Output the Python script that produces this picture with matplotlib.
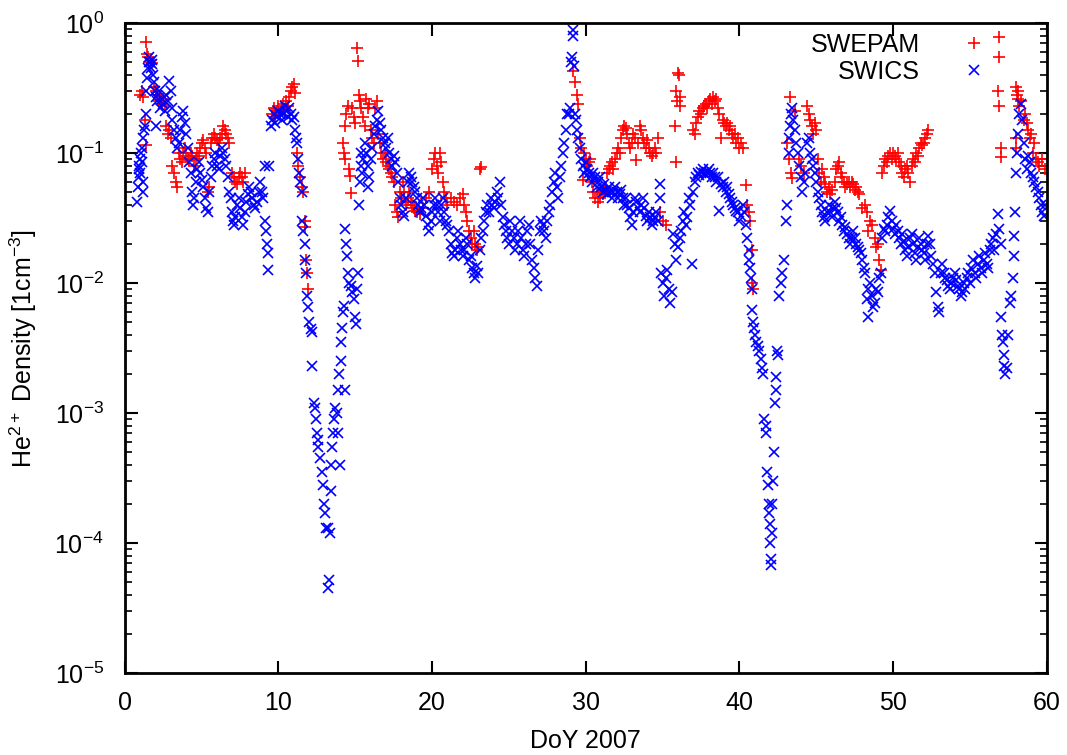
import numpy as np
import matplotlib
matplotlib.use('Agg')
import matplotlib.pyplot as plt
import matplotlib as mpl

mpl.rcParams['font.family'] = ['Liberation Sans', 'DejaVu Sans']
mpl.rcParams['font.size'] = 18
mpl.rcParams['mathtext.default'] = 'regular'
mpl.rcParams['xtick.top'] = True
mpl.rcParams['ytick.right'] = True
mpl.rcParams['xtick.direction'] = 'in'
mpl.rcParams['ytick.direction'] = 'in'

# (day of year, He2+ density in cm^-3)
swics_early = [
    (0.8, 0.042), (0.85, 0.055), (0.9, 0.065), (0.9, 0.08), (0.95, 0.075), (1.0, 0.09), (1.0, 0.07),
    (1.05, 0.1), (1.1, 0.085), (1.1, 0.11), (1.15, 0.06), (1.2, 0.05), (1.2, 0.13), (1.25, 0.15),
    (1.3, 0.16), (1.35, 0.2), (1.4, 0.3), (1.45, 0.38), (1.5, 0.45), (1.55, 0.5), (1.6, 0.55),
    (1.65, 0.5), (1.7, 0.45), (1.75, 0.52), (1.8, 0.48), (1.85, 0.4), (1.9, 0.35), (1.95, 0.3),
    (2.0, 0.27), (2.05, 0.16), (2.1, 0.25), (2.2, 0.3), (2.3, 0.22), (2.4, 0.26), (2.5, 0.24),
    (2.6, 0.21), (2.7, 0.28), (2.8, 0.25), (2.9, 0.36), (3.0, 0.3), (3.05, 0.22), (3.1, 0.18),
    (3.2, 0.15), (3.3, 0.13), (3.4, 0.11), (3.5, 0.12), (3.6, 0.15), (3.7, 0.19), (3.8, 0.21),
    (3.9, 0.17), (4.0, 0.14), (4.1, 0.11), (4.2, 0.085), (4.3, 0.07), (4.4, 0.05), (4.45, 0.04),
    (4.5, 0.045), (4.6, 0.06), (4.7, 0.075), (4.8, 0.085), (4.9, 0.07), (5.0, 0.062), (5.1, 0.055),
    (5.2, 0.045), (5.3, 0.038), (5.4, 0.035), (5.5, 0.05), (5.6, 0.065), (5.7, 0.08), (5.8, 0.09),
    (5.9, 0.1), (6.0, 0.08), (6.1, 0.075), (6.2, 0.095), (6.3, 0.11), (6.4, 0.1), (6.5, 0.09),
    (6.6, 0.08), (6.7, 0.065), (6.8, 0.05), (6.9, 0.045), (7.0, 0.035), (7.05, 0.03), (7.1, 0.028),
    (7.2, 0.032), (7.3, 0.04), (7.4, 0.045), (7.5, 0.038), (7.6, 0.032), (7.7, 0.028), (7.8, 0.035),
    (7.9, 0.042), (8.0, 0.048), (8.1, 0.055), (8.2, 0.05), (8.3, 0.045), (8.4, 0.04), (8.5, 0.038),
    (8.6, 0.042), (8.7, 0.05), (8.8, 0.06), (8.9, 0.05), (9.0, 0.045), (9.1, 0.08), (9.15, 0.03),
    (9.2, 0.025), (9.25, 0.02), (9.3, 0.017), (9.35, 0.0125), (9.4, 0.08), (9.5, 0.16), (9.6, 0.18),
    (9.7, 0.2), (9.8, 0.17), (9.9, 0.19), (10.0, 0.21), (10.1, 0.2), (10.2, 0.18), (10.3, 0.2),
    (10.4, 0.23), (10.5, 0.21), (10.6, 0.19), (10.7, 0.22), (10.8, 0.2), (10.9, 0.18), (11.0, 0.19),
    (11.1, 0.15), (11.15, 0.13), (11.2, 0.12),
]
swics_dip1 = [
    (11.3, 0.09), (11.35, 0.07), (11.4, 0.06), (11.5, 0.05), (11.55, 0.03), (11.6, 0.025), (11.7, 0.02),
    (11.75, 0.015), (11.8, 0.012), (11.85, 0.008), (11.9, 0.0065), (12.0, 0.005), (12.1, 0.0044),
    (12.15, 0.0042), (12.2, 0.0023), (12.3, 0.0012), (12.35, 0.0011), (12.45, 0.0009), (12.5, 0.0007),
    (12.55, 0.00062), (12.6, 0.00055), (12.7, 0.00045), (12.8, 0.00035), (12.9, 0.00028), (12.95, 0.0002),
    (13.05, 0.00017), (13.1, 0.00013), (13.2, 0.00013), (13.25, 4.5e-5), (13.28, 5.2e-5), (13.35, 0.00012),
    (13.4, 0.00025), (13.45, 0.0004), (13.5, 0.00055), (13.55, 0.0007), (13.6, 0.0009), (13.7, 0.0011),
    (13.8, 0.001), (13.85, 0.0007), (13.9, 0.0015), (13.95, 0.002), (14.0, 0.0004), (14.05, 0.0025),
    (14.1, 0.0035), (14.15, 0.0045), (14.2, 0.006), (14.25, 0.0067), (14.3, 0.0015), (14.35, 0.026),
    (14.4, 0.02), (14.45, 0.016), (14.5, 0.012), (14.6, 0.01), (14.7, 0.0095), (14.8, 0.0085),
    (14.9, 0.0075), (15.0, 0.0055), (15.05, 0.0048), (15.1, 0.009), (15.2, 0.012),
]
swics_mid = [
    (15.25, 0.04), (15.3, 0.06), (15.35, 0.08), (15.4, 0.1), (15.45, 0.07), (15.5, 0.09), (15.6, 0.12),
    (15.7, 0.1), (15.8, 0.08), (15.85, 0.055), (15.9, 0.065), (16.0, 0.09), (16.1, 0.11), (16.2, 0.14),
    (16.3, 0.16), (16.4, 0.18), (16.5, 0.21), (16.6, 0.17), (16.7, 0.15), (16.8, 0.13), (16.9, 0.12),
    (17.0, 0.11), (17.1, 0.13), (17.2, 0.1), (17.3, 0.09), (17.4, 0.08), (17.5, 0.095), (17.6, 0.085),
    (17.7, 0.07), (17.8, 0.06), (17.9, 0.045), (18.0, 0.04), (18.1, 0.035), (18.2, 0.033), (18.3, 0.045),
    (18.4, 0.06), (18.5, 0.07), (18.6, 0.065), (18.7, 0.06), (18.8, 0.055), (18.9, 0.05), (19.0, 0.045),
    (19.1, 0.04), (19.2, 0.035), (19.3, 0.038), (19.4, 0.045), (19.5, 0.04), (19.6, 0.033), (19.7, 0.028),
    (19.8, 0.025), (19.9, 0.03), (20.0, 0.035), (20.1, 0.04), (20.2, 0.045), (20.3, 0.04), (20.4, 0.035),
    (20.5, 0.03), (20.6, 0.04), (20.7, 0.045), (20.8, 0.035), (20.9, 0.03), (21.0, 0.028), (21.1, 0.025),
    (21.2, 0.02), (21.3, 0.017), (21.4, 0.016), (21.5, 0.018), (21.6, 0.022), (21.7, 0.025), (21.8, 0.02),
    (21.9, 0.018), (22.0, 0.016), (22.1, 0.018), (22.2, 0.022), (22.3, 0.02), (22.4, 0.015), (22.5, 0.016),
    (22.6, 0.013), (22.7, 0.012), (22.8, 0.011), (22.9, 0.0135), (23.0, 0.012), (23.1, 0.018), (23.2, 0.022),
    (23.3, 0.025), (23.4, 0.03), (23.5, 0.035), (23.6, 0.04), (23.7, 0.035), (23.8, 0.045), (23.9, 0.04),
    (24.0, 0.038), (24.1, 0.042), (24.2, 0.05), (24.3, 0.045), (24.4, 0.06), (24.5, 0.04), (24.6, 0.032),
    (24.7, 0.028), (24.8, 0.025), (24.9, 0.022), (25.0, 0.02), (25.1, 0.03), (25.2, 0.025), (25.3, 0.022),
    (25.4, 0.018), (25.5, 0.02), (25.6, 0.025), (25.7, 0.03), (25.8, 0.022), (25.9, 0.018), (26.0, 0.016),
    (26.1, 0.02), (26.2, 0.025), (26.3, 0.028), (26.4, 0.02), (26.5, 0.015), (26.6, 0.013), (26.7, 0.011),
    (26.8, 0.0095), (26.9, 0.018), (27.0, 0.025), (27.1, 0.03), (27.2, 0.028), (27.3, 0.025), (27.4, 0.022),
    (27.5, 0.03), (27.6, 0.035), (27.7, 0.04), (27.8, 0.05), (27.9, 0.06), (28.0, 0.07), (28.1, 0.055),
    (28.2, 0.045), (28.3, 0.065), (28.4, 0.08), (28.5, 0.1), (28.6, 0.12), (28.7, 0.15), (28.8, 0.2),
    (28.9, 0.2), (29.0, 0.22), (29.05, 0.5), (29.1, 0.55), (29.15, 0.8), (29.2, 0.88), (29.25, 0.47),
    (29.3, 0.2), (29.35, 0.18), (29.4, 0.15), (29.5, 0.13), (29.6, 0.11), (29.7, 0.09), (29.8, 0.08),
    (29.9, 0.07),
]
swics_late = [
    (30.0, 0.085), (30.1, 0.075), (30.2, 0.07), (30.3, 0.065), (30.4, 0.06), (30.5, 0.07), (30.6, 0.065),
    (30.7, 0.055), (30.8, 0.06), (30.9, 0.065), (31.0, 0.055), (31.1, 0.05), (31.2, 0.058), (31.3, 0.052),
    (31.4, 0.048), (31.5, 0.055), (31.6, 0.05), (31.7, 0.045), (31.8, 0.05), (31.9, 0.055), (32.0, 0.05),
    (32.1, 0.045), (32.2, 0.048), (32.3, 0.052), (32.4, 0.045), (32.5, 0.04), (32.6, 0.045), (32.7, 0.04),
    (32.8, 0.038), (32.9, 0.032), (33.0, 0.028), (33.1, 0.035), (33.2, 0.045), (33.3, 0.042), (33.4, 0.038),
    (33.5, 0.035), (33.6, 0.04), (33.7, 0.045), (33.8, 0.038), (33.9, 0.033), (34.0, 0.03), (34.1, 0.035),
    (34.2, 0.032), (34.3, 0.028), (34.4, 0.03), (34.5, 0.032), (34.6, 0.035), (34.7, 0.03), (34.8, 0.058),
    (34.85, 0.045), (34.9, 0.012), (35.0, 0.01), (35.1, 0.008), (35.2, 0.011), (35.3, 0.0125), (35.4, 0.009),
    (35.5, 0.007), (35.6, 0.0085), (35.7, 0.024), (35.8, 0.02), (35.9, 0.015), (36.0, 0.019), (36.1, 0.022),
    (36.2, 0.025), (36.3, 0.03), (36.4, 0.035), (36.5, 0.028), (36.6, 0.032), (36.7, 0.045), (36.8, 0.04),
    (36.9, 0.014), (37.0, 0.05), (37.1, 0.06), (37.2, 0.065), (37.3, 0.07), (37.4, 0.068), (37.5, 0.072),
    (37.6, 0.075), (37.7, 0.07), (37.8, 0.068), (37.9, 0.072), (38.0, 0.075), (38.1, 0.07), (38.2, 0.065),
    (38.3, 0.07), (38.4, 0.065), (38.5, 0.06), (38.6, 0.065), (38.7, 0.036), (38.8, 0.058), (38.9, 0.055),
    (39.0, 0.06), (39.1, 0.05), (39.2, 0.055), (39.3, 0.048), (39.4, 0.045), (39.5, 0.042), (39.6, 0.04),
    (39.7, 0.038), (39.8, 0.036), (39.9, 0.035), (40.0, 0.03), (40.1, 0.033), (40.2, 0.04), (40.3, 0.035),
    (40.4, 0.028), (40.5, 0.022), (40.6, 0.018), (40.65, 0.015), (40.7, 0.013), (40.75, 0.011), (40.8, 0.009),
]
swics_dip2 = [
    (40.85, 0.0062), (40.9, 0.005), (40.95, 0.0045), (41.0, 0.004), (41.1, 0.0035), (41.2, 0.0033),
    (41.3, 0.003), (41.4, 0.0026), (41.5, 0.0022), (41.55, 0.002), (41.6, 0.0009), (41.7, 0.0008),
    (41.75, 0.0007), (41.8, 0.00035), (41.85, 0.00028), (41.9, 0.0002), (41.95, 0.00017), (42.0, 0.00014),
    (42.02, 0.0001), (42.05, 7.5e-5), (42.08, 6.8e-5), (42.1, 0.00012), (42.15, 0.0002), (42.2, 0.0003),
    (42.25, 0.0005), (42.3, 0.0012), (42.35, 0.0015), (42.4, 0.0019), (42.45, 0.003), (42.5, 0.0028),
    (42.6, 0.008), (42.7, 0.01), (42.8, 0.012), (42.9, 0.015), (43.0, 0.03), (43.1, 0.04), (43.2, 0.1),
    (43.25, 0.13), (43.3, 0.16), (43.35, 0.2), (43.4, 0.22), (43.5, 0.18), (43.6, 0.15), (43.7, 0.12),
]
swics_end = [
    (43.8, 0.1), (43.9, 0.08), (44.0, 0.065), (44.1, 0.05), (44.2, 0.06), (44.3, 0.07), (44.4, 0.12),
    (44.5, 0.13), (44.6, 0.1), (44.7, 0.09), (44.8, 0.08), (44.9, 0.07), (45.0, 0.06), (45.1, 0.05),
    (45.2, 0.045), (45.3, 0.04), (45.4, 0.035), (45.5, 0.032), (45.6, 0.03), (45.7, 0.035), (45.8, 0.04),
    (45.9, 0.035), (46.0, 0.032), (46.1, 0.038), (46.2, 0.042), (46.3, 0.038), (46.4, 0.035), (46.5, 0.03),
    (46.6, 0.032), (46.7, 0.028), (46.8, 0.025), (46.9, 0.027), (47.0, 0.024), (47.1, 0.022), (47.2, 0.02),
    (47.3, 0.022), (47.4, 0.025), (47.5, 0.022), (47.6, 0.02), (47.7, 0.019), (47.8, 0.018), (47.9, 0.017),
    (48.0, 0.015), (48.1, 0.013), (48.2, 0.012), (48.3, 0.0075), (48.35, 0.0055), (48.4, 0.009), (48.5, 0.01),
    (48.6, 0.008), (48.7, 0.0065), (48.8, 0.007), (48.9, 0.009), (49.0, 0.0085), (49.1, 0.011), (49.2, 0.012),
    (49.3, 0.022), (49.4, 0.026), (49.5, 0.025), (49.6, 0.028), (49.7, 0.032), (49.8, 0.036), (49.9, 0.03),
    (50.0, 0.026), (50.1, 0.024), (50.2, 0.028), (50.3, 0.025), (50.4, 0.022), (50.5, 0.02), (50.6, 0.024),
    (50.7, 0.021), (50.8, 0.018), (50.9, 0.016), (51.0, 0.019), (51.1, 0.022), (51.2, 0.024), (51.3, 0.02),
    (51.4, 0.017), (51.5, 0.015), (51.6, 0.019), (51.7, 0.022), (51.8, 0.02), (51.9, 0.018), (52.0, 0.017),
    (52.1, 0.015), (52.2, 0.02), (52.3, 0.023), (52.4, 0.02), (52.5, 0.016), (52.6, 0.014), (52.7, 0.012),
    (52.8, 0.0085), (52.9, 0.0065), (53.0, 0.006), (53.1, 0.012), (53.2, 0.014), (53.3, 0.012), (53.4, 0.011),
    (53.5, 0.0105), (53.6, 0.0095), (53.7, 0.009), (53.8, 0.01), (53.9, 0.011), (54.0, 0.012), (54.1, 0.0105),
    (54.2, 0.0095), (54.3, 0.009), (54.4, 0.008), (54.5, 0.0085), (54.6, 0.01), (54.7, 0.009), (54.8, 0.011),
    (54.9, 0.012), (55.0, 0.01), (55.1, 0.013), (55.2, 0.015), (55.3, 0.012), (55.4, 0.011), (55.5, 0.014),
    (55.6, 0.016), (55.7, 0.013), (55.8, 0.012), (55.9, 0.015), (56.0, 0.017), (56.1, 0.014), (56.2, 0.013),
    (56.3, 0.018), (56.4, 0.02), (56.5, 0.022), (56.6, 0.018), (56.7, 0.024), (56.8, 0.034), (56.9, 0.026),
    (57.0, 0.02), (57.05, 0.0055), (57.1, 0.004), (57.15, 0.0035), (57.2, 0.0028), (57.25, 0.0023),
    (57.3, 0.002), (57.4, 0.0022), (57.5, 0.004), (57.6, 0.007), (57.7, 0.008), (57.8, 0.011), (57.85, 0.016),
    (57.9, 0.023), (57.95, 0.035), (58.0, 0.07), (58.05, 0.1), (58.1, 0.14), (58.2, 0.2), (58.3, 0.24),
    (58.4, 0.18), (58.5, 0.12), (58.6, 0.09), (58.7, 0.075), (58.8, 0.095), (58.9, 0.085), (59.0, 0.07),
    (59.1, 0.065), (59.2, 0.06), (59.3, 0.055), (59.4, 0.05), (59.5, 0.045), (59.6, 0.04), (59.7, 0.035),
    (59.8, 0.033), (59.9, 0.04),
]

swepam_early = [
    (1.0, 0.28), (1.1, 0.3), (1.2, 0.27), (1.3, 0.18), (1.35, 0.115), (1.4, 0.72), (1.45, 0.58),
    (1.5, 0.55), (1.6, 0.5), (1.7, 0.52), (1.8, 0.49), (1.9, 0.32), (2.0, 0.3), (2.1, 0.28), (2.2, 0.25),
    (2.3, 0.27), (2.4, 0.24), (2.5, 0.26), (2.6, 0.23), (2.7, 0.16), (2.8, 0.14), (2.9, 0.15), (3.0, 0.13),
    (3.1, 0.08), (3.2, 0.07), (3.3, 0.06), (3.4, 0.055), (3.5, 0.1), (3.6, 0.09), (3.7, 0.085), (3.8, 0.1),
    (3.9, 0.11), (4.0, 0.095), (4.1, 0.09), (4.2, 0.088), (4.3, 0.1), (4.4, 0.095), (4.5, 0.08), (4.6, 0.09),
    (4.7, 0.1), (4.8, 0.095), (4.9, 0.11), (5.0, 0.12), (5.1, 0.125), (5.2, 0.11), (5.3, 0.1), (5.4, 0.05),
    (5.5, 0.055), (5.6, 0.12), (5.7, 0.13), (5.8, 0.14), (5.9, 0.13), (6.0, 0.125), (6.1, 0.12), (6.2, 0.13),
    (6.3, 0.14), (6.4, 0.16), (6.5, 0.15), (6.6, 0.14), (6.7, 0.13), (6.8, 0.12), (7.0, 0.07), (7.1, 0.065),
    (7.2, 0.06), (7.3, 0.058), (7.4, 0.065), (7.5, 0.07), (7.6, 0.065), (7.7, 0.06), (7.8, 0.07),
    (9.6, 0.2), (9.7, 0.22), (9.8, 0.19), (9.9, 0.21), (10.0, 0.23), (10.1, 0.2), (10.2, 0.22), (10.3, 0.24),
    (10.4, 0.21), (10.5, 0.25), (10.6, 0.23), (10.7, 0.27), (10.8, 0.3), (10.9, 0.32), (11.0, 0.34),
    (11.1, 0.29), (11.2, 0.1), (11.3, 0.08), (11.4, 0.065), (11.5, 0.055), (11.6, 0.05), (11.7, 0.03),
    (11.75, 0.027), (11.8, 0.015), (11.85, 0.012), (11.9, 0.009),
]
swepam_mid = [
    (14.2, 0.12), (14.25, 0.1), (14.3, 0.09), (14.35, 0.16), (14.4, 0.2), (14.5, 0.23), (14.6, 0.075),
    (14.65, 0.066), (14.7, 0.049), (14.8, 0.22), (14.9, 0.19), (15.0, 0.17), (15.1, 0.64), (15.2, 0.51),
    (15.25, 0.28), (15.3, 0.25), (15.4, 0.22), (15.5, 0.19), (15.6, 0.16), (15.7, 0.26), (15.8, 0.22),
    (15.9, 0.24), (16.0, 0.15), (16.1, 0.13), (16.2, 0.12), (16.3, 0.22), (16.4, 0.25), (16.5, 0.14),
    (16.6, 0.12), (16.7, 0.1), (16.8, 0.09), (16.9, 0.1), (17.0, 0.085), (17.1, 0.08), (17.2, 0.075),
    (17.3, 0.07), (17.4, 0.065), (17.5, 0.06), (17.6, 0.04), (17.7, 0.035), (17.8, 0.032), (17.9, 0.05),
    (18.0, 0.045), (18.1, 0.06), (18.2, 0.05), (18.3, 0.04), (18.4, 0.045), (18.5, 0.05), (18.6, 0.042),
    (18.7, 0.04), (18.8, 0.038), (18.9, 0.036), (19.0, 0.035), (19.2, 0.034), (19.4, 0.038), (19.6, 0.045),
    (19.8, 0.05), (20.0, 0.075), (20.1, 0.09), (20.2, 0.1), (20.3, 0.08), (20.4, 0.07), (20.5, 0.1),
    (20.6, 0.085), (20.7, 0.06), (20.8, 0.05), (20.9, 0.045), (21.0, 0.04), (21.2, 0.045), (21.4, 0.042),
    (21.6, 0.04), (21.8, 0.045), (22.0, 0.048), (22.1, 0.04), (22.2, 0.035), (22.3, 0.03), (22.4, 0.025),
    (22.5, 0.022), (22.6, 0.02), (22.7, 0.025), (22.8, 0.02), (22.9, 0.018), (23.0, 0.019), (23.1, 0.075),
    (23.2, 0.078),
]
swepam_late = [
    (29.2, 0.43), (29.3, 0.35), (29.4, 0.28), (29.5, 0.24), (29.6, 0.13), (29.7, 0.11), (29.8, 0.062),
    (29.9, 0.1), (30.0, 0.09), (30.1, 0.08), (30.2, 0.085), (30.3, 0.09), (30.4, 0.06), (30.5, 0.05),
    (30.6, 0.045), (30.7, 0.05), (30.8, 0.042), (30.9, 0.045), (31.0, 0.05), (31.1, 0.048), (31.2, 0.052),
    (31.3, 0.055), (31.4, 0.07), (31.5, 0.075), (31.6, 0.08), (31.7, 0.085), (31.8, 0.075), (31.9, 0.09),
    (32.0, 0.1), (32.1, 0.11), (32.2, 0.1), (32.3, 0.13), (32.4, 0.15), (32.5, 0.16), (32.6, 0.155),
    (32.7, 0.14), (32.8, 0.12), (32.9, 0.11), (33.0, 0.12), (33.1, 0.14), (33.2, 0.13), (33.3, 0.088),
    (33.4, 0.12), (33.5, 0.16), (33.6, 0.15), (33.7, 0.13), (33.8, 0.12), (33.9, 0.11), (34.0, 0.125),
    (34.1, 0.11), (34.2, 0.1), (34.3, 0.095), (34.4, 0.1), (34.5, 0.11), (34.6, 0.1), (34.7, 0.13),
    (34.8, 0.035), (35.0, 0.03), (35.2, 0.028), (35.8, 0.16), (35.85, 0.085), (35.9, 0.3), (35.95, 0.25),
    (36.0, 0.41), (36.05, 0.4), (36.1, 0.27), (36.15, 0.23), (37.0, 0.15), (37.1, 0.14), (37.2, 0.17),
    (37.3, 0.19), (37.4, 0.21), (37.5, 0.2), (37.6, 0.22), (37.7, 0.23), (37.8, 0.24), (37.9, 0.22),
    (38.0, 0.25), (38.1, 0.26), (38.2, 0.24), (38.3, 0.27), (38.4, 0.25), (38.5, 0.26), (38.6, 0.22),
    (38.7, 0.2), (38.8, 0.13), (38.9, 0.18), (39.0, 0.17), (39.1, 0.16), (39.2, 0.17), (39.3, 0.15),
    (39.4, 0.16), (39.5, 0.14), (39.6, 0.13), (39.7, 0.14), (39.8, 0.12), (39.9, 0.13), (40.0, 0.11),
    (40.1, 0.12), (40.2, 0.11), (40.4, 0.057), (40.5, 0.04), (40.6, 0.035), (40.7, 0.03), (40.8, 0.018),
    (40.85, 0.01), (40.9, 0.009),
]
swepam_end = [
    (43.1, 0.12), (43.2, 0.09), (43.3, 0.27), (43.35, 0.07), (43.4, 0.064), (43.6, 0.21), (43.9, 0.09),
    (44.0, 0.08), (44.2, 0.07), (44.4, 0.23), (44.5, 0.2), (44.6, 0.18), (44.7, 0.16), (44.8, 0.14),
    (44.9, 0.17), (45.0, 0.15), (45.1, 0.09), (45.2, 0.07), (45.3, 0.06), (45.4, 0.075), (45.5, 0.065),
    (45.6, 0.058), (45.7, 0.05), (45.8, 0.055), (45.9, 0.048), (46.0, 0.052), (46.2, 0.06), (46.3, 0.075),
    (46.4, 0.08), (46.5, 0.085), (46.6, 0.07), (46.7, 0.065), (46.8, 0.06), (46.9, 0.055), (47.0, 0.058),
    (47.1, 0.06), (47.2, 0.055), (47.3, 0.06), (47.4, 0.058), (47.5, 0.052), (47.6, 0.055), (47.7, 0.05),
    (47.8, 0.048), (48.0, 0.038), (48.2, 0.04), (48.3, 0.035), (48.4, 0.025), (48.5, 0.03), (48.6, 0.028),
    (48.8, 0.022), (48.9, 0.019), (49.0, 0.02), (49.1, 0.015), (49.2, 0.0125), (49.3, 0.07), (49.4, 0.08),
    (49.5, 0.09), (49.6, 0.085), (49.7, 0.095), (49.8, 0.1), (49.9, 0.09), (50.0, 0.1), (50.1, 0.095),
    (50.2, 0.09), (50.3, 0.1), (50.4, 0.085), (50.5, 0.08), (50.6, 0.07), (50.7, 0.065), (50.8, 0.075),
    (50.9, 0.08), (51.0, 0.07), (51.1, 0.06), (51.2, 0.08), (51.3, 0.09), (51.4, 0.085), (51.5, 0.1),
    (51.6, 0.095), (51.7, 0.11), (51.8, 0.12), (51.9, 0.115), (52.0, 0.12), (52.1, 0.13), (52.2, 0.14),
    (52.3, 0.15), (56.9, 0.78), (56.92, 0.55), (56.85, 0.3), (56.9, 0.23), (57.0, 0.11), (57.02, 0.093),
    (58.0, 0.32), (58.05, 0.28), (58.1, 0.3), (58.15, 0.26), (58.2, 0.23), (58.3, 0.25), (58.0, 0.13),
    (58.02, 0.11), (58.5, 0.18), (58.6, 0.2), (58.7, 0.17), (58.8, 0.15), (58.9, 0.13), (59.0, 0.14),
    (59.1, 0.1), (59.2, 0.12), (59.3, 0.09), (59.4, 0.085), (59.5, 0.08), (59.7, 0.09), (59.9, 0.075),
]

swics = np.array(swics_early + swics_dip1 + swics_mid + swics_late + swics_dip2 + swics_end)
swepam = np.array(swepam_early + swepam_mid + swepam_late + swepam_end)

fig = plt.figure(figsize=(10.67, 7.55), dpi=100)
ax = fig.add_axes([0.117, 0.1086, 0.864, 0.861])

ax.plot(swepam[:, 0], swepam[:, 1], '+', color='#ff0000', ms=8, mew=1.2, label='SWEPAM')
ax.plot(swics[:, 0], swics[:, 1], 'x', color='#0000ff', ms=7.5, mew=1.2, label='SWICS')

ax.set_yscale('log')
ax.set_xlim(0, 60)
ax.set_ylim(1e-5, 1)
ax.set_xticks(range(0, 61, 10))
ax.set_xlabel('DoY 2007', labelpad=10)
ax.set_ylabel('He$^{2+}$ Density [1cm$^{-3}$]', labelpad=11)

for s in ax.spines.values():
    s.set_linewidth(2)
ax.tick_params(which='major', length=9, width=1.5)
ax.tick_params(which='minor', length=5, width=1.2)
ax.tick_params(axis='x', which='major', pad=13)
ax.tick_params(axis='y', which='major', pad=15)

ax.legend(loc='upper right', bbox_to_anchor=(0.948, 0.985), frameon=False, markerfirst=False,
          handlelength=2.0, handletextpad=1.16, borderpad=0, borderaxespad=0,
          labelspacing=0.12, fontsize=18)

plt.savefig('out.png', dpi=100)
